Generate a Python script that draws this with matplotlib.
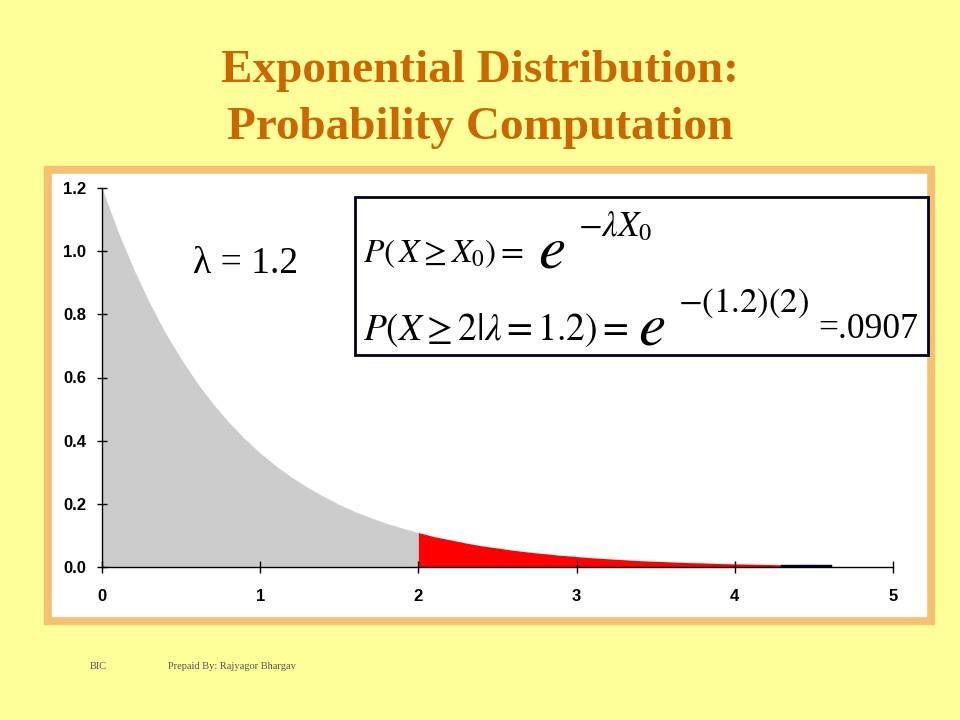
import numpy as np
import matplotlib.pyplot as plt
from matplotlib.patches import Rectangle

plt.rcParams['mathtext.fontset'] = 'stix'

# density, every 0.1 from 0 to 4.3
x_vals = [0.0, 0.1, 0.2, 0.3, 0.4, 0.5, 0.6, 0.7, 0.8, 0.9,
          1.0, 1.1, 1.2, 1.3, 1.4, 1.5, 1.6, 1.7, 1.8, 1.9,
          2.0, 2.1, 2.2, 2.3, 2.4, 2.5, 2.6, 2.7, 2.8, 2.9,
          3.0, 3.1, 3.2, 3.3, 3.4, 3.5, 3.6, 3.7, 3.8, 3.9,
          4.0, 4.1, 4.2, 4.3]
density = [1.200, 1.064, 0.944, 0.837, 0.742, 0.659, 0.584, 0.518, 0.459, 0.407,
           0.361, 0.320, 0.284, 0.252, 0.224, 0.198, 0.175, 0.156, 0.138, 0.123,
           0.109, 0.096, 0.086, 0.076, 0.067, 0.060, 0.053, 0.047, 0.042, 0.037,
           0.033, 0.029, 0.026, 0.023, 0.020, 0.018, 0.016, 0.014, 0.013, 0.011,
           0.010, 0.009, 0.008, 0.007]
x_cut = 2.0
tail_start, tail_end = 4.3, 4.6   # the dark bit at the far end

x_ticks = [0, 1, 2, 3, 4, 5]
y_ticks = [0.0, 0.2, 0.4, 0.6, 0.8, 1.0, 1.2]

W, H = 960, 720
def fx(px):
    return px / W
def fy(py):
    return 1 - py / H

fig = plt.figure(figsize=(9.6, 7.2), dpi=100)
fig.patch.set_facecolor('#FFFF99')

# orange frame + white panel
fig.patches.append(Rectangle((fx(44), fy(624)), (934 - 44) / W, (624 - 166) / H,
                             transform=fig.transFigure, color='#F4C173', zorder=-2))
fig.patches.append(Rectangle((fx(52), fy(616)), (926 - 52) / W, (616 - 174) / H,
                             transform=fig.transFigure, color='white', zorder=-1))

fig.text(0.5, fy(71), 'Exponential Distribution:', ha='center', va='center',
         fontsize=34, fontweight='bold', family='Liberation Serif', color='#CC6600')
fig.text(0.5, fy(128), 'Probability Computation', ha='center', va='center',
         fontsize=34, fontweight='bold', family='Liberation Serif', color='#CC6600')

ax = fig.add_axes([fx(102), fy(567), (893 - 102) / W, (567 - 188) / H])
ax.set_zorder(2)
ax.patch.set_alpha(0)

x = np.array(x_vals)
y = np.array(density)
left = x <= x_cut
right = x >= x_cut
ax.fill_between(x[left], 0, y[left], color='#CCCCCC', lw=0)
ax.fill_between(x[right], 0, y[right], color='#FF0000', lw=0)
ax.plot([tail_start, tail_end], [0.004, 0.004], color='#000044', lw=2.5)

ax.set_xlim(0, 5)
ax.set_ylim(0, 1.2)
ax.set_xticks(x_ticks)
ax.set_yticks(y_ticks)
ax.set_yticklabels(['%.1f' % v for v in y_ticks])
for s in ['top', 'right']:
    ax.spines[s].set_visible(False)
for s in ['left', 'bottom']:
    ax.spines[s].set_linewidth(1)
ax.tick_params(axis='x', direction='inout', length=9, width=1, pad=11)
ax.tick_params(axis='y', direction='inout', length=7, width=1, pad=8)
for lab in ax.get_xticklabels() + ax.get_yticklabels():
    lab.set_fontweight('bold')
    lab.set_fontsize(12)
    lab.set_family('Liberation Sans')

fig.text(fx(193), fy(264), 'λ = 1.2', fontsize=27, ha='left', va='center',
         family='Liberation Serif', zorder=4)

# formula box
fig.patches.append(Rectangle((fx(355), fy(355)), (928 - 355) / W, (355 - 197) / H,
                             transform=fig.transFigure, fill=False, ec='#000022', lw=2,
                             zorder=3))
fig.text(fx(363), fy(262), r'$P(\,X \geq X_{0}) = $', fontsize=24, ha='left', va='baseline',
         zorder=4)
fig.text(fx(538), fy(268), r'$e$', fontsize=44, ha='left', va='baseline', zorder=4)
fig.text(fx(578), fy(236), r'$-\lambda X_{0}$', fontsize=25, ha='left', va='baseline', zorder=4)

fig.text(fx(363), fy(340), r'$P\left(X \geq 2|\lambda = 1.2\right) = $', fontsize=27,
         ha='left', va='baseline', zorder=4)
fig.text(fx(638), fy(344), r'$e$', fontsize=44, ha='left', va='baseline', zorder=4)
fig.text(fx(678), fy(312), r'$-(1.2)(2)$', fontsize=25, ha='left', va='baseline', zorder=4)
fig.text(fx(818), fy(338), '=.0907', fontsize=25.5, ha='left', va='baseline',
         family='Liberation Serif', zorder=4)

fig.text(fx(90), fy(669), 'BIC', fontsize=7.5, family='Liberation Serif', color='#555555')
fig.text(fx(168), fy(669), 'Prepaid By: Rajyagor Bhargav', fontsize=7.5,
         family='Liberation Serif', color='#555555')

fig.savefig('out.png', dpi=100, facecolor=fig.get_facecolor())
